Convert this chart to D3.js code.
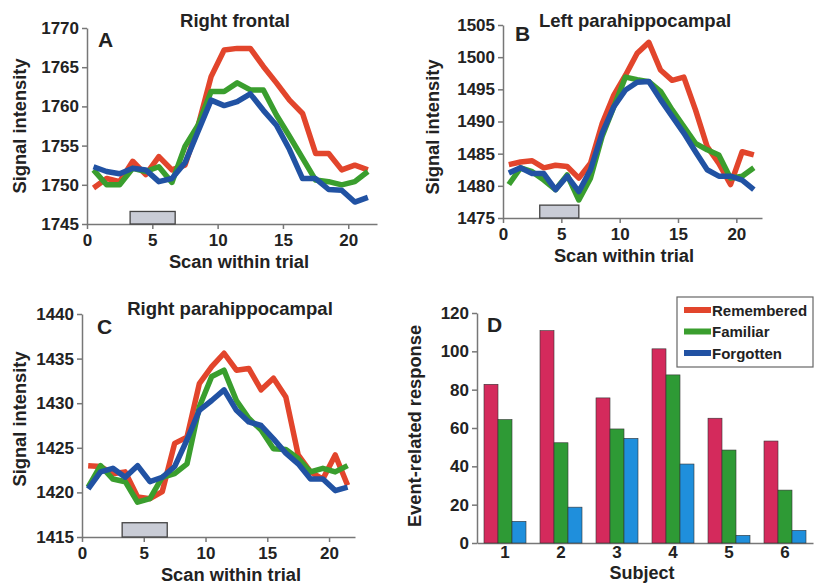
<!DOCTYPE html>
<html>
<head>
<meta charset="utf-8">
<script src="https://cdn.jsdelivr.net/npm/d3@7"></script>
<style>
  body { margin: 0; background: #fff; }
  svg text { font-family: "Liberation Sans", Arial, sans-serif; font-weight: bold; fill: #222; }
</style>
</head>
<body>
<script>
// scan positions (shared by the three time courses)
var scans = [0.5, 1.5, 2.5, 3.5, 4.5, 5.5, 6.5, 7.5, 8.5, 9.5, 10.5,
             11.5, 12.5, 13.5, 14.5, 15.5, 16.5, 17.5, 18.5, 19.5, 20.5, 21.5];

var frontalRemembered = [1749.6, 1750.8, 1750.4, 1753.0, 1751.3, 1753.6, 1751.9, 1752.5, 1757.5, 1763.8, 1767.2,
                         1767.4, 1767.4, 1765.1, 1763.0, 1760.8, 1759.1, 1754.0, 1754.0, 1751.9, 1752.5, 1751.9];
var frontalFamiliar   = [1751.9, 1750.0, 1750.0, 1752.1, 1751.7, 1752.3, 1750.3, 1754.9, 1757.6, 1761.9, 1761.9,
                         1763.0, 1762.1, 1762.1, 1758.9, 1756.2, 1753.4, 1750.6, 1750.4, 1750.0, 1750.4, 1751.7];
var frontalForgotten  = [1752.3, 1751.7, 1751.4, 1752.1, 1751.9, 1750.4, 1750.8, 1752.8, 1756.8, 1760.8, 1760.1,
                         1760.6, 1761.6, 1759.5, 1757.6, 1754.5, 1750.8, 1750.8, 1749.4, 1749.3, 1747.8, 1748.4];

var leftPhcRemembered = [1483.3, 1483.7, 1483.9, 1482.8, 1483.2, 1483.0, 1481.2, 1483.5, 1489.7, 1494.1, 1497.2,
                         1500.6, 1502.3, 1498.0, 1496.4, 1496.9, 1491.8, 1486.1, 1483.5, 1480.2, 1485.3, 1484.8];
var leftPhcFamiliar   = [1480.2, 1482.8, 1482.2, 1480.9, 1479.4, 1481.7, 1477.8, 1481.2, 1487.7, 1492.3, 1496.9,
                         1496.5, 1496.2, 1494.7, 1491.8, 1489.2, 1486.6, 1485.6, 1484.8, 1481.2, 1481.5, 1482.8];
var leftPhcForgotten  = [1482.0, 1482.8, 1481.9, 1481.9, 1479.4, 1481.5, 1479.1, 1482.5, 1488.2, 1492.3, 1494.9,
                         1496.1, 1496.2, 1493.4, 1490.8, 1488.2, 1485.3, 1482.5, 1481.5, 1481.5, 1480.9, 1479.4];

var rightPhcRemembered = [1423.0, 1422.9, 1422.1, 1422.3, 1419.5, 1419.3, 1420.1, 1425.5, 1426.2, 1432.2, 1434.1,
                          1435.6, 1433.7, 1433.9, 1431.5, 1432.8, 1430.7, 1424.2, 1422.3, 1421.5, 1424.2, 1420.8];
var rightPhcFamiliar   = [1420.6, 1423.0, 1421.5, 1421.2, 1418.9, 1419.3, 1421.7, 1422.1, 1423.2, 1429.6, 1433.0,
                          1433.7, 1430.3, 1428.3, 1427.0, 1424.9, 1424.8, 1423.8, 1422.3, 1422.7, 1422.3, 1423.0];
var rightPhcForgotten  = [1420.4, 1422.3, 1422.7, 1421.7, 1423.0, 1421.2, 1421.7, 1422.9, 1425.9, 1429.2, 1430.3,
                          1431.5, 1429.2, 1427.9, 1427.5, 1426.0, 1424.4, 1423.2, 1421.5, 1421.5, 1420.2, 1420.6];

// stimulus box per panel: [start scan, end scan, top value]
var stimFrontal  = [3.3, 6.75, 1746.6];
var stimLeftPhc  = [3.15, 6.5, 1477.0];
var stimRightPhc = [3.25, 6.9, 1416.6];

var xTicks = [0, 5, 10, 15, 20];
var frontalTicks  = [1745, 1750, 1755, 1760, 1765, 1770];
var leftPhcTicks  = [1475, 1480, 1485, 1490, 1495, 1500, 1505];
var rightPhcTicks = [1415, 1420, 1425, 1430, 1435, 1440];

// panel D
var subjects   = ["1", "2", "3", "4", "5", "6"];
var conditions = ["Remembered", "Familiar", "Forgotten"];
var remembered = [82.8, 110.8, 75.7, 101.3, 65.1, 53.2];
var familiar   = [64.4, 52.3, 59.5, 87.7, 48.5, 27.6];
var forgotten  = [11.3, 18.7, 54.6, 41.2, 4.0, 6.6];
var responseTicks = [0, 20, 40, 60, 80, 100, 120];

var lineColors = ["#e2452c", "#3a9e2e", "#2152a3"];
var barColors  = ["#d42a5c", "#2e9a35", "#1f8fdc"];

var svg = d3.select("body").append("svg")
  .attr("width", 814)
  .attr("height", 584);

function styleAxis(g) {
  g.selectAll("path, line").attr("stroke", "#777").attr("stroke-width", 1.5);
  g.selectAll("text").attr("font-size", 17).attr("fill", "#222")
    .style("font-family", '"Liberation Sans", Arial, sans-serif').style("font-weight", "bold");
}

function linePanel(p) {
  var x = d3.scaleLinear().domain([0, p.xMax]).range([p.left, p.right]);
  var y = d3.scaleLinear().domain(p.yDomain).range([p.bottom, p.top]);
  var g = svg.append("g");

  g.append("g")
    .attr("transform", "translate(0," + p.bottom + ")")
    .call(d3.axisBottom(x).tickValues(xTicks).tickSize(5).tickSizeOuter(0).tickPadding(5))
    .call(styleAxis);
  g.append("g")
    .attr("transform", "translate(" + p.left + ",0)")
    .call(d3.axisLeft(y).tickValues(p.yTicks).tickFormat(d3.format("d"))
      .tickSize(5).tickSizeOuter(0).tickPadding(3))
    .call(styleAxis);

  g.append("rect")
    .attr("x", x(p.stim[0]))
    .attr("y", y(p.stim[2]))
    .attr("width", x(p.stim[1]) - x(p.stim[0]))
    .attr("height", y(p.yDomain[0]) - y(p.stim[2]))
    .attr("fill", "#c9ccd6")
    .attr("stroke", "#444")
    .attr("stroke-width", 1.3);

  var line = d3.line()
    .x(function(d, i) { return x(scans[i]); })
    .y(function(d) { return y(d); });

  p.series.forEach(function(s, i) {
    g.append("path")
      .datum(s)
      .attr("d", line)
      .attr("fill", "none")
      .attr("stroke", lineColors[i])
      .attr("stroke-width", 5.5)
      .attr("stroke-linejoin", "round");
  });

  g.append("text").attr("x", p.titleX).attr("y", p.titleY)
    .attr("text-anchor", "middle").attr("font-size", 18.5).text(p.title);
  g.append("text").attr("x", p.letterX).attr("y", p.letterY)
    .attr("font-size", 21).text(p.letter);
  g.append("text").attr("x", p.xLabelX).attr("y", p.bottom + 44)
    .attr("text-anchor", "middle").attr("font-size", 18.3).text("Scan within trial");
  g.append("text")
    .attr("transform", "translate(" + p.yLabelX + "," + p.yLabelY + ") rotate(-90)")
    .attr("text-anchor", "middle").attr("font-size", 18.3).text("Signal intensity");
}

linePanel({
  left: 87, right: 377, top: 28, bottom: 224, xMax: 22.2,
  yDomain: [1745, 1770], yTicks: frontalTicks, stim: stimFrontal,
  series: [frontalRemembered, frontalFamiliar, frontalForgotten],
  title: "Right frontal", titleX: 235, titleY: 27, letter: "A", letterX: 98, letterY: 47,
  xLabelX: 239, yLabelX: 26, yLabelY: 126
});
linePanel({
  left: 503, right: 762, top: 25, bottom: 218, xMax: 22.2,
  yDomain: [1475, 1505], yTicks: leftPhcTicks, stim: stimLeftPhc,
  series: [leftPhcRemembered, leftPhcFamiliar, leftPhcForgotten],
  title: "Left parahippocampal", titleX: 635, titleY: 27, letter: "B", letterX: 515, letterY: 41,
  xLabelX: 624, yLabelX: 439, yLabelY: 127
});
linePanel({
  left: 82, right: 355, top: 314, bottom: 537, xMax: 22.1,
  yDomain: [1415, 1440], yTicks: rightPhcTicks, stim: stimRightPhc,
  series: [rightPhcRemembered, rightPhcFamiliar, rightPhcForgotten],
  title: "Right parahippocampal", titleX: 230, titleY: 315, letter: "C", letterX: 97, letterY: 334,
  xLabelX: 231, yLabelX: 26, yLabelY: 419
});

// ---- panel D: grouped bars ----
var dLeft = 477, dRight = 813, dTop = 313, dBottom = 543;
var x0 = d3.scaleBand().domain(subjects).range([dLeft, dRight])
  .paddingInner(0.25).paddingOuter(0.125);
var x1 = d3.scaleBand().domain(conditions).range([0, x0.bandwidth()]);
var yD = d3.scaleLinear().domain([0, 120]).range([dBottom, dTop]);
var values = [remembered, familiar, forgotten];

var gD = svg.append("g");
gD.append("g")
  .attr("transform", "translate(0," + dBottom + ")")
  .call(d3.axisBottom(x0).tickSize(0).tickPadding(3))
  .call(styleAxis);
gD.append("g")
  .attr("transform", "translate(" + dLeft + ",0)")
  .call(d3.axisLeft(yD).tickValues(responseTicks).tickSize(5).tickSizeOuter(0).tickPadding(3))
  .call(styleAxis);

conditions.forEach(function(c, ci) {
  gD.selectAll(".bar" + ci)
    .data(values[ci])
    .enter().append("rect")
    .attr("x", function(d, i) { return x0(subjects[i]) + x1(c); })
    .attr("y", function(d) { return yD(d); })
    .attr("width", x1.bandwidth())
    .attr("height", function(d) { return yD(0) - yD(d); })
    .attr("fill", barColors[ci])
    .attr("stroke", "#333")
    .attr("stroke-width", 0.6);
});

gD.append("text").attr("x", 487).attr("y", 332).attr("font-size", 21).text("D");
gD.append("text").attr("x", 642).attr("y", 579)
  .attr("text-anchor", "middle").attr("font-size", 18).text("Subject");
gD.append("text")
  .attr("transform", "translate(421," + ((dTop + dBottom) / 2 - 2) + ") rotate(-90)")
  .attr("text-anchor", "middle").attr("font-size", 18.3).text("Event-related response");

// legend
var legend = gD.append("g");
legend.append("rect")
  .attr("x", 677).attr("y", 297).attr("width", 136).attr("height", 70)
  .attr("fill", "#fff").attr("stroke", "#666").attr("stroke-width", 1.2);
conditions.forEach(function(c, i) {
  var ly = 310 + i * 21.5;
  legend.append("rect")
    .attr("x", 684).attr("y", ly - 3).attr("width", 27).attr("height", 6)
    .attr("fill", lineColors[i]);
  legend.append("text")
    .attr("x", 712).attr("y", ly + 5.5)
    .attr("font-size", 15).text(c);
});
</script>
</body>
</html>
